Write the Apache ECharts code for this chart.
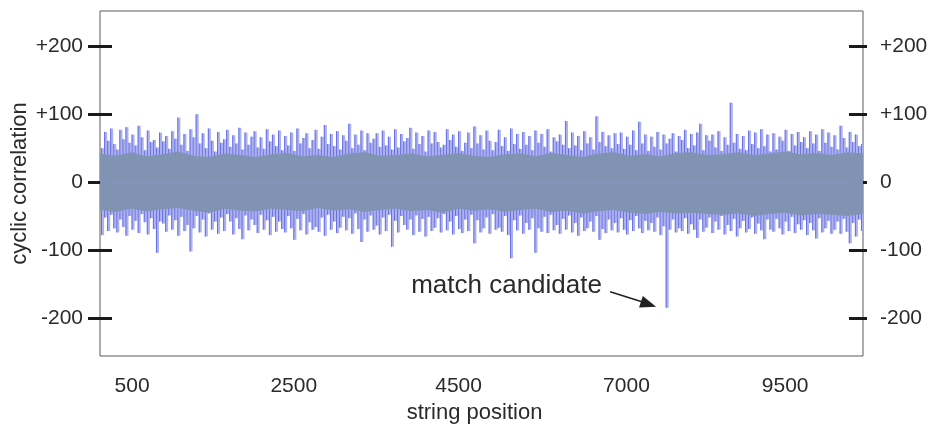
<!DOCTYPE html>
<html>
<head>
<meta charset="utf-8">
<script src="https://cdn.jsdelivr.net/npm/echarts@6/dist/echarts.min.js"></script>
<style>
  html, body { margin: 0; padding: 0; background: #fff; }
  #main { width: 929px; height: 430px; }
</style>
</head>
<body>
<div id="main"></div>
<script>
// column max / min of the correlation trace (about 40 string positions per column)
var hiVals = [
  50,74,61,79,56,48,77,63,81,58,  70,54,83,66,47,76,59,62,51,73,
  60,68,49,75,64,95,55,71,46,78,  66,100,57,72,50,79,61,45,74,58,
  63,77,52,69,57,80,48,73,55,67,  75,51,66,49,78,60,70,53,76,47,
  68,54,73,46,79,57,65,72,50,62,  77,49,67,84,56,71,53,75,48,69,
  61,86,50,70,55,76,47,72,58,64,  72,52,76,54,67,48,78,51,71,60,
  65,80,49,73,56,68,45,76,57,74,  59,51,55,78,62,70,52,75,46,58,
  73,50,82,57,69,48,76,61,47,59,  77,53,66,46,79,56,71,49,74,55,
  68,47,76,58,71,52,78,45,66,60,  70,55,90,50,73,54,68,47,75,57,
  66,48,97,59,74,53,69,50,72,56,  73,49,67,55,76,47,89,57,70,46,
  67,52,74,48,70,57,64,72,45,68,  62,77,50,71,54,73,86,47,69,61,
  70,51,75,46,66,55,117,58,71,49, 68,47,76,56,73,50,78,53,70,45,
  72,48,67,61,77,46,71,54,74,59,  66,50,75,57,70,46,78,58,73,52,
  69,48,83,65,51,74,59,70,53,56
];
var loVals = [
  -78,-52,-72,-48,-68,-74,-55,-66,-79,-50,  -70,-57,-75,-47,-59,-77,-53,-69,-104,-58,
  -61,-73,-49,-70,-56,-79,-51,-72,-63,-102, -68,-50,-74,-55,-80,-46,-70,-58,-76,-52,
  -72,-47,-58,-77,-53,-69,-84,-49,-71,-55,  -63,-75,-48,-70,-56,-78,-51,-73,-58,-69,
  -74,-50,-68,-85,-54,-71,-47,-77,-59,-70,  -66,-73,-52,-79,-48,-70,-58,-75,-67,-51,
  -71,-53,-76,-46,-69,-88,-55,-73,-49,-70,  -64,-77,-52,-72,-48,-95,-57,-74,-50,-63,
  -70,-55,-78,-49,-73,-54,-80,-51,-72,-67,  -53,-74,-47,-71,-58,-77,-50,-69,-75,-55,
  -72,-48,-90,-56,-74,-68,-52,-76,-47,-70,  -67,-73,-50,-78,-112,-56,-71,-49,-76,-60,
  -70,-53,-104,-68,-73,-51,-75,-48,-71,-63, -76,-54,-70,-49,-74,-60,-79,-52,-72,-68,
  -58,-73,-50,-85,-69,-75,-55,-71,-60,-74,  -53,-70,-77,-56,-72,-50,-68,-75,-57,-71,
  -60,-73,-52,-78,-65,-185,-70,-55,-74,-68, -72,-53,-76,-62,-70,-82,-55,-73,-67,-52,
  -75,-58,-70,-50,-77,-63,-72,-54,-80,-68,  -57,-74,-69,-52,-76,-61,-71,-84,-55,-70,
  -73,-54,-68,-77,-58,-72,-51,-75,-62,-70,  -56,-78,-60,-71,-83,-53,-74,-68,-57,-76,
  -70,-58,-76,-54,-73,-90,-60,-80,-55,-72
];
// dense core of the trace (every 5 columns)
var coreHi = [
  42,39,44,38,41,45,39,37,42,40, 37,41,43,38,40,37,42,44,39,40,
  42,38,40,43,39,37,41,42,38,43, 40,37,42,44,39,41,38,43,44,40,
  41,44,40,42,45,41,43,40,44,42
];
var coreLo = [
  -41,-44,-39,-43,-40,-38,-42,-45,-39,-42, -43,-39,-41,-43,-38,-42,-40,-44,-41,-39,
  -43,-41,-45,-39,-42,-40,-44,-41,-39,-44, -42,-46,-43,-41,-45,-47,-44,-46,-45,-47,
  -48,-46,-50,-47,-45,-49,-47,-48,-50,-47
];
var tickCols = [10, 63, 117, 172, 224];
var tickLabels = ['500', '2500', '4500', '7000', '9500'];
var yTicks = [-200, -100, 0, 100, 200];
var matchCol = 185;

var cols = hiVals.map(function (v, i) { return String(i); });
var coreCols = coreHi.map(function (v, i) { return String(i); });

var txt = '#2b2b2b';
var tickStyle = { color: '#1a1a1a', width: 3 };
var font = 'Liberation Sans, Arial, sans-serif';
var lightSpike = '#adb2ec';
var darkSpike = '#6770e6';
var coreColor = '#8193b3';

function isTick(idx) { return tickCols.indexOf(idx) >= 0; }
function yFmt(v) { return v > 0 ? '+' + v : String(v); }

function yAx(pos, inside, len, labels) {
    return {
        type: 'value', position: pos, min: -256, max: 252,
        axisLine: { show: false },
        splitLine: { show: false },
        axisTick: { show: true, inside: inside, length: len, customValues: yTicks, lineStyle: tickStyle },
        axisLabel: { show: labels, customValues: yTicks, formatter: yFmt, margin: 17,
                     fontSize: 21, color: txt, fontFamily: font }
    };
}

var chart = echarts.init(document.getElementById('main'));
var yLeft = yAx('left', false, 12, true);
yLeft.name = 'cyclic correlation';
yLeft.nameLocation = 'middle';
yLeft.nameMoveOverlap = false;
yLeft.nameGap = 69;
yLeft.nameTextStyle = { fontSize: 22, color: txt, fontFamily: font };

option = {
    backgroundColor: '#fff',
    animation: false,
    grid: { left: 100, right: 66, top: 11, bottom: 74, outerBoundsMode: 'none',
            show: true, borderColor: '#5a5a5a', borderWidth: 1 },
    xAxis: [
        {
            type: 'category', data: cols, position: 'bottom',
            axisLine: { show: false },
            axisTick: { inside: false, length: 12, alignWithLabel: true, interval: isTick, lineStyle: tickStyle },
            axisLabel: { interval: isTick, margin: 20, fontSize: 21, color: txt, fontFamily: font,
                         formatter: function (v, idx) { return tickLabels[tickCols.indexOf(idx)]; } },
            name: 'string position', nameLocation: 'middle', nameGap: 45,
            nameTextStyle: { fontSize: 22, color: txt, fontFamily: font, padding: [0, 14, 0, 0] }
        },
        {
            type: 'category', data: cols, position: 'bottom',
            axisLine: { show: false },
            axisTick: { inside: true, length: 8, alignWithLabel: true, interval: isTick, lineStyle: tickStyle },
            axisLabel: { show: false }
        },
        {
            type: 'category', data: coreCols, boundaryGap: false, show: false
        }
    ],
    yAxis: [
        yLeft,
        yAx('left', true, 12, false),
        yAx('right', false, 4, true),
        yAx('right', true, 14, false)
    ],
    series: [
        // light fill of each column
        {
            name: 'max', type: 'bar', stack: 'fill', data: hiVals, barWidth: '100%', barGap: '-100%', z: 1,
            itemStyle: { color: lightSpike }
        },
        {
            name: 'min', type: 'bar', stack: 'fill', data: loVals, barWidth: '100%', barGap: '-100%', z: 1,
            itemStyle: { color: lightSpike }
        },
        // thin blue trace line on each column
        {
            name: 'maxLine', type: 'bar', stack: 'edge', data: hiVals, barWidth: 1, barGap: '-100%', z: 2,
            itemStyle: { color: darkSpike }
        },
        {
            name: 'minLine', type: 'bar', stack: 'edge', data: loVals, barWidth: 1, barGap: '-100%', z: 2,
            itemStyle: { color: darkSpike }
        },
        {
            name: 'coreHi', type: 'line', xAxisIndex: 2, data: coreHi, symbol: 'none', z: 3,
            lineStyle: { width: 0 }, areaStyle: { color: coreColor, opacity: 1 }
        },
        {
            name: 'coreLo', type: 'line', xAxisIndex: 2, data: coreLo, symbol: 'none', z: 3,
            lineStyle: { width: 0 }, areaStyle: { color: coreColor, opacity: 1 }
        }
    ]
};
chart.setOption(option);

// annotation pointing at the match candidate spike
var p = chart.convertToPixel({ xAxisIndex: 0, yAxisIndex: 0 }, [matchCol, loVals[matchCol]]);
var ax = p[0] - 56, ay = p[1] - 16, bx = p[0] - 10, by = p[1] - 1;
var ang = Math.atan2(by - ay, bx - ax);
function rot(dx, dy) {
    return [bx + dx * Math.cos(ang) - dy * Math.sin(ang), by + dx * Math.sin(ang) + dy * Math.cos(ang)];
}
chart.setOption({
    graphic: [
        { type: 'text', left: p[0] - 255, top: ay - 19,
          style: { text: 'match candidate', fontSize: 26, fill: txt, fontFamily: font } },
        { type: 'line', shape: { x1: ax, y1: ay, x2: bx - 8, y2: by - 3 },
          style: { stroke: '#222', lineWidth: 1.5 } },
        { type: 'polygon', shape: { points: [[bx, by], rot(-16, -6), rot(-16, 6)] },
          style: { fill: '#222' } }
    ]
});
</script>
</body>
</html>
